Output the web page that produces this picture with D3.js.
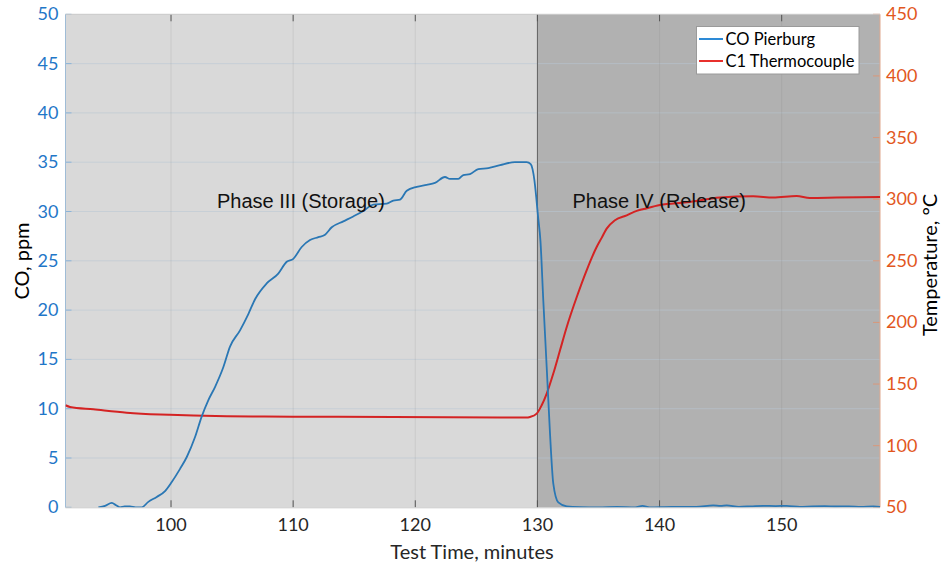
<!DOCTYPE html>
<html><head><meta charset="utf-8">
<script src="https://cdn.jsdelivr.net/npm/d3@7"></script>
<style>body{margin:0;background:#fff}svg{display:block}</style>
</head><body>
<svg id="c" width="944" height="567"></svg>
<script>
// ---- data ----
const xTicks = [100, 110, 120, 130, 140, 150];
const coTicks = [0, 5, 10, 15, 20, 25, 30, 35, 40, 45, 50];
const tempTicks = [50, 100, 150, 200, 250, 300, 350, 400, 450];
const phaseBoundary = 130;
const phaseLabels = ["Phase III (Storage)", "Phase IV (Release)"];
const seriesNames = ["CO Pierburg", "C1 Thermocouple"];

const coTime = [94.05,94.6,95.15,95.5,95.82,96.2,96.64,97.1,97.6,98.14,98.83,99.51,100.06,100.74,101.29,101.96,102.51,103.05,103.6,104.28,104.83,105.65,106.33,106.88,107.83,108.78,109.47,110.01,110.7,111.38,112.06,112.61,113.16,114.11,114.92,115.74,116.56,117.66,118.2,118.75,119.3,120.12,120.93,121.61,122.43,122.84,123.52,123.93,124.48,125.16,125.98,126.94,128.16,129.12,129.45,129.6,129.75,129.9,130.05,130.25,130.48,130.76,131.03,131.3,131.71,132.4,133.5,135,136.5,138,138.6,139.2,141,143,144.4,145,145.5,146.5,147.5,148.5,149.5,150.4,151.5,152.5,153.5,154.5,155.5,156.5,157.5,158.05];
const coPpm  = [0,0.15,0.44,0.2,0,0.1,0.1,0,0,0.55,1.05,1.65,2.57,3.9,5.1,7.1,9.2,10.85,12.2,14.2,16.3,17.95,19.6,21.1,22.7,23.7,24.9,25.2,26.4,27.1,27.4,27.65,28.4,29.0,29.5,30.05,30.7,30.8,31.1,31.2,32.1,32.5,32.7,32.9,33.5,33.3,33.3,33.7,33.8,34.3,34.4,34.7,35.0,35.0,34.8,34.3,33.2,31.5,29.5,27.0,21.0,14.2,7.5,2.4,0.5,0.1,0.02,0,0.05,0,0.15,0,0.05,0.05,0.2,0.15,0.2,0.05,0.1,0.15,0.12,0.15,0.05,0.1,0.12,0.08,0.1,0.05,0.1,0.05];

const tempTime = [91.36,91.73,93.64,96.37,99.1,99.9,101.83,104.56,107.29,110.01,118.2,126.94,129.12,129.39,129.94,130.35,130.76,131.3,131.85,132.4,133.22,134.03,134.85,135.26,135.67,136.35,137.31,138.13,138.7,140.03,142.22,144.95,147.67,149.31,151.22,152.31,154.5,158.05];
const tempC    = [132.8,131.4,129.5,126.8,125.3,125.0,124.4,123.8,123.6,123.5,123.3,122.9,122.8,123.3,126,132.8,142.3,158.5,177.4,196.3,220.6,242.3,261.2,268.6,276.1,282.9,286.9,290.5,292,295.3,297.5,301.3,302.3,301.3,302.6,301,301.3,301.8];

// ---- layout ----
const svg = d3.select("#c");
const L = 65.5, R = 880, T = 14.3, B = 507.3;
const x = d3.scaleLinear().domain([91.36, 158.05]).range([L, R]);
const yL = d3.scaleLinear().domain([0, 50]).range([B, T]);
const yR = d3.scaleLinear().domain([50, 450]).range([B, T]);
const font = "Lato, 'Open Sans', sans-serif";
const blue = "#2a77b4", red = "#d42323";
const blueTxt = "#1f77c8", orangeTxt = "#e2571e";

// backgrounds
svg.append("rect").attr("x", L).attr("y", T).attr("width", x(phaseBoundary) - L).attr("height", B - T).attr("fill", "#d9d9d9");
svg.append("rect").attr("x", x(phaseBoundary)).attr("y", T).attr("width", R - x(phaseBoundary)).attr("height", B - T).attr("fill", "#b1b1b1");

// grid
svg.append("g").selectAll("line").data(coTicks.slice(1, -1)).join("line")
  .attr("x1", L).attr("x2", R).attr("y1", d => yL(d)).attr("y2", d => yL(d))
  .attr("stroke", "#b8c6d4").attr("stroke-opacity", 0.55).attr("stroke-width", 1);
svg.append("g").selectAll("line").data(xTicks.filter(d => d !== phaseBoundary)).join("line")
  .attr("x1", d => x(d)).attr("x2", d => x(d)).attr("y1", T).attr("y2", B)
  .attr("stroke", "#7a7a7a").attr("stroke-opacity", 0.15).attr("stroke-width", 1);

// phase boundary line
svg.append("line").attr("x1", x(phaseBoundary)).attr("x2", x(phaseBoundary)).attr("y1", T).attr("y2", B)
  .attr("stroke", "#606060").attr("stroke-width", 1);

// ticks
svg.append("g").selectAll("line").data(xTicks).join("line")
  .attr("x1", d => x(d)).attr("x2", d => x(d)).attr("y1", B).attr("y2", B - 7)
  .attr("stroke", "#555").attr("stroke-width", 1);
svg.append("g").selectAll("line").data(xTicks).join("line")
  .attr("x1", d => x(d)).attr("x2", d => x(d)).attr("y1", T).attr("y2", T + 7)
  .attr("stroke", "#555").attr("stroke-width", 1);
svg.append("g").selectAll("line").data(coTicks).join("line")
  .attr("x1", L).attr("x2", L + 6).attr("y1", d => yL(d)).attr("y2", d => yL(d))
  .attr("stroke", "#8db4d8").attr("stroke-width", 1);
svg.append("g").selectAll("line").data(tempTicks).join("line")
  .attr("x1", R).attr("x2", R - 7).attr("y1", d => yR(d)).attr("y2", d => yR(d))
  .attr("stroke", "#d9987a").attr("stroke-width", 1);

// axes lines
svg.append("line").attr("x1", L).attr("x2", L).attr("y1", T).attr("y2", B).attr("stroke", "#9fbcd6");
svg.append("line").attr("x1", R).attr("x2", R).attr("y1", T).attr("y2", B).attr("stroke", "#e0a88e");
svg.append("line").attr("x1", L).attr("x2", R).attr("y1", B + 0.5).attr("y2", B + 0.5).attr("stroke", "#c8c8c8");
svg.append("line").attr("x1", L).attr("x2", R).attr("y1", T).attr("y2", T).attr("stroke", "#c8c8c8");

// lines
const clip = svg.append("clipPath").attr("id", "pc").append("rect").attr("x", L).attr("y", T - 2).attr("width", R - L).attr("height", B - T + 2);
const coData = coTime.map((t, i) => [t, coPpm[i]]);
const tData = tempTime.map((t, i) => [t, tempC[i]]);
svg.append("path").datum(tData).attr("clip-path", "url(#pc)")
  .attr("d", d3.line().x(d => x(d[0])).y(d => yR(d[1])).curve(d3.curveMonotoneX))
  .attr("fill", "none").attr("stroke", red).attr("stroke-width", 2);
svg.append("path").datum(coData).attr("clip-path", "url(#pc)")
  .attr("d", d3.line().x(d => x(d[0])).y(d => yL(d[1])).curve(d3.curveMonotoneX))
  .attr("fill", "none").attr("stroke", blue).attr("stroke-width", 1.8);

// tick labels
svg.append("g").selectAll("text").data(xTicks).join("text")
  .attr("x", d => x(d)).attr("y", 531).attr("text-anchor", "middle")
  .attr("font-family", font).attr("font-size", 18).attr("fill", "#262626").text(d => d);
svg.append("g").selectAll("text").data(coTicks).join("text")
  .attr("x", 58.5).attr("y", d => yL(d) + 6).attr("text-anchor", "end")
  .attr("font-family", font).attr("font-size", 18).attr("fill", blueTxt).text(d => d);
svg.append("g").selectAll("text").data(tempTicks).join("text")
  .attr("x", 886).attr("y", d => yR(d) + 6).attr("text-anchor", "start")
  .attr("font-family", font).attr("font-size", 18).attr("fill", orangeTxt).text(d => d);

// axis titles
svg.append("text").attr("x", 472).attr("y", 559).attr("text-anchor", "middle")
  .attr("font-family", font).attr("font-size", 20).attr("fill", "#262626").text("Test Time, minutes");
svg.append("text").attr("transform", "translate(29,261) rotate(-90)").attr("text-anchor", "middle")
  .attr("font-family", font).attr("font-size", 20).attr("fill", "#000").text("CO, ppm");
svg.append("text").attr("transform", "translate(937,265) rotate(-90)").attr("text-anchor", "middle")
  .attr("font-family", font).attr("font-size", 20).attr("fill", "#000").text("Temperature, °C");

// phase labels
svg.append("text").attr("x", 217).attr("y", 208).attr("font-family", "'Liberation Sans', Arial, sans-serif")
  .attr("font-size", 20).attr("fill", "#111").text(phaseLabels[0]);
svg.append("text").attr("x", 572.5).attr("y", 208).attr("font-family", "'Liberation Sans', Arial, sans-serif")
  .attr("font-size", 20).attr("fill", "#111").text(phaseLabels[1]);

// legend
const lg = svg.append("g");
lg.append("rect").attr("x", 696.5).attr("y", 26.5).attr("width", 162.5).attr("height", 47.5)
  .attr("fill", "#fff").attr("stroke", "#9a9a9a").attr("stroke-width", 1);
const legColors = ["#2d8ad6", "#e8302c"];
seriesNames.forEach((n, i) => {
  const yy = 39 + i * 22;
  lg.append("line").attr("x1", 699).attr("x2", 723).attr("y1", yy).attr("y2", yy)
    .attr("stroke", legColors[i]).attr("stroke-width", 2);
  lg.append("text").attr("x", 725.5).attr("y", yy + 5.5).attr("font-family", font)
    .attr("font-size", 16.5).attr("fill", "#000").text(n);
});
</script>
</body></html>
